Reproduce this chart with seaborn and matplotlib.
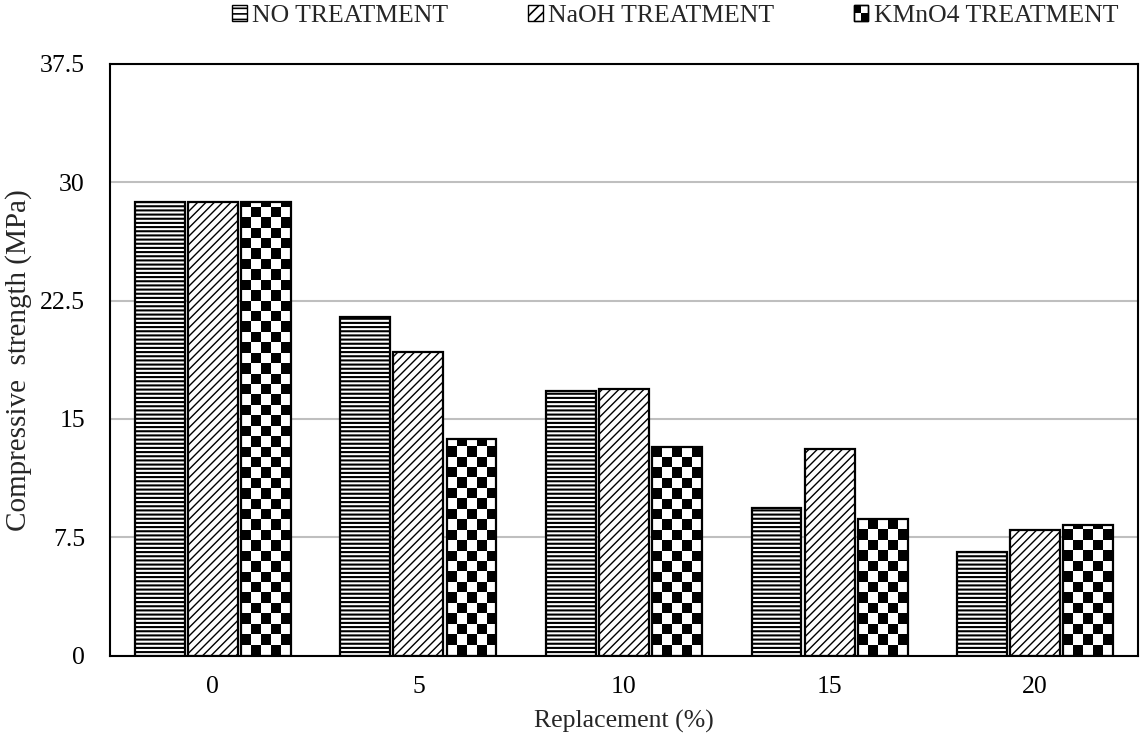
import numpy as np
import pandas as pd
import matplotlib
matplotlib.use("Agg")
import matplotlib.pyplot as plt
import seaborn as sns
from matplotlib.patches import Patch, Rectangle
from matplotlib.legend_handler import HandlerBase

# ---- data -------------------------------------------------------------
replacement = ["0", "5", "10", "15", "20"]
treatments = ["NO TREATMENT", "NaOH TREATMENT", "KMnO4 TREATMENT"]
no_treatment = [28.74, 21.46, 16.76, 9.33, 6.58]
naoh_treatment = [28.74, 19.26, 16.89, 13.12, 7.96]
kmno4_treatment = [28.74, 13.71, 13.23, 8.63, 8.26]
y_ticks = [0, 7.5, 15, 22.5, 30, 37.5]
y_tick_labels = ["0", "7.5", "15", "22.5", "30", "37.5"]

df = pd.DataFrame({
    "Replacement": replacement * len(treatments),
    "Treatment": np.repeat(treatments, len(replacement)),
    "Strength": no_treatment + naoh_treatment + kmno4_treatment,
})

# ---- style ------------------------------------------------------------
sns.set_style("white")
plt.rcParams["font.family"] = ["Liberation Serif", "DejaVu Serif"]
plt.rcParams["hatch.color"] = "black"
plt.rcParams["hatch.linewidth"] = 1.2

FS = 18.5
YLAB_FS = 21

fig = plt.figure(figsize=(11.47, 7.37), dpi=100)
ax = fig.add_axes([110 / 1147, 1 - 655.5 / 737, 1028 / 1147, (655.5 - 64) / 737])

sns.barplot(
    data=df, x="Replacement", y="Strength", hue="Treatment",
    order=replacement, hue_order=treatments,
    palette=["white"] * 3, saturation=1, errorbar=None,
    width=0.775, gap=0.06, edgecolor="black", linewidth=1.6,
    legend=False, ax=ax, zorder=3,
)

# hatching for the first two series
hatches = ["----", "////"]
for cont, h in zip(ax.containers[:2], hatches):
    for bar in cont:
        bar.set_facecolor("white")
        bar.set_edgecolor("black")
        bar.set_hatch(h)
        if hasattr(bar, "set_hatch_linewidth"):
            bar.set_hatch_linewidth(1.5 if h == "----" else 1.0)

# checkerboard fill for the KMnO4 series, clipped to each bar
CELL_H = 0.66
N_COLS = 5
for bar in ax.containers[2]:
    x0, w, h = bar.get_x(), bar.get_width(), bar.get_height()
    nrows = int(np.ceil(h / CELL_H))
    board = np.add.outer(np.arange(nrows), np.arange(N_COLS)) % 2
    im = ax.imshow(
        board, cmap="binary", vmin=0, vmax=1, origin="lower",
        extent=[x0, x0 + w, 0, nrows * CELL_H], aspect="auto",
        interpolation="nearest", zorder=3.5,
    )
    im.set_clip_path(bar)
    bar.set_facecolor("none")
    bar.set_zorder(4)

# ---- axes -------------------------------------------------------------
ax.set_xlim(-0.5, len(replacement) - 0.5)
ax.set_ylim(0, 37.5)
ax.set_yticks(y_ticks)
ax.set_yticklabels(y_tick_labels)
ax.yaxis.grid(True, color="#BFBFBF", linewidth=1.5, zorder=0)
ax.set_axisbelow(True)
ax.tick_params(axis="both", length=0, labelsize=FS, colors="black")
ax.tick_params(axis="y", pad=18)
ax.tick_params(axis="x", pad=15)
for sp in ax.spines.values():
    sp.set_visible(True)
    sp.set_color("black")
    sp.set_linewidth(1.5)
    sp.set_zorder(5)

ax.set_xlabel("Replacement (%)", fontsize=FS, labelpad=8)
ax.set_ylabel("Compressive  strength (MPa)", fontsize=YLAB_FS, labelpad=6)


# ---- legend -----------------------------------------------------------
class CheckerHandler(HandlerBase):
    def create_artists(self, legend, orig_handle, xdescent, ydescent,
                       width, height, fontsize, trans):
        x0, y0 = -xdescent, -ydescent
        arts = [Rectangle((x0, y0), width, height, facecolor="white",
                          edgecolor="black", lw=1.0, transform=trans)]
        n = 2
        cw, ch = width / n, height / n
        for i in range(n):
            for j in range(n):
                if (i + j) % 2 == 1:
                    arts.append(Rectangle((x0 + i * cw, y0 + j * ch), cw, ch,
                                          facecolor="black", edgecolor="none",
                                          transform=trans))
        arts.append(Rectangle((x0, y0), width, height, facecolor="none",
                              edgecolor="black", lw=1.0, transform=trans))
        return arts


h_no = Patch(facecolor="white", edgecolor="black", hatch="---", lw=1.0)
h_naoh = Patch(facecolor="white", edgecolor="black", hatch="///", lw=1.0)
h_kmno4 = Patch(facecolor="white", edgecolor="black")
fig.legend(
    [h_no, h_naoh, h_kmno4], treatments,
    handler_map={h_kmno4: CheckerHandler()},
    loc="center", bbox_to_anchor=(675 / 1147, 1 - 16 / 737), ncol=3,
    frameon=False, fontsize=FS, handlelength=0.58, handleheight=0.58,
    handletextpad=0.2, columnspacing=3.1,
)

fig.savefig("out.png", dpi=100)
